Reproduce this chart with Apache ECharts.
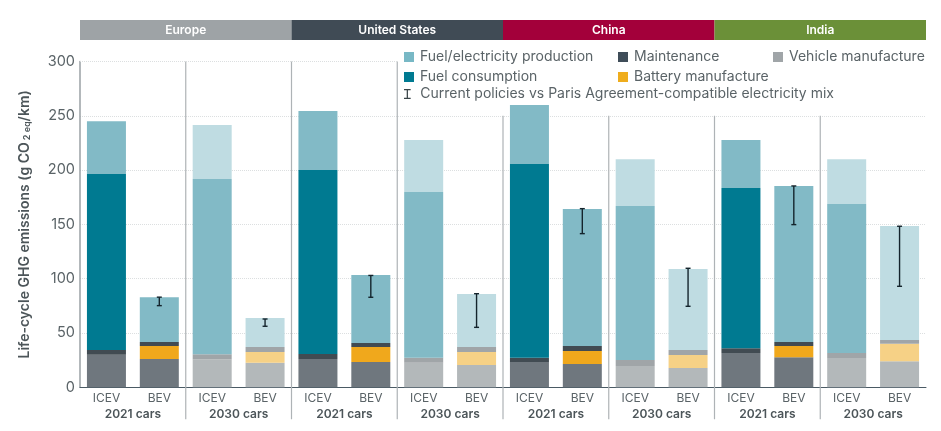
<!DOCTYPE html>
<html>
<head>
<meta charset="utf-8">
<style>html,body{margin:0;padding:0;background:#fff}#chart{width:941px;height:431px}</style>
<script src="https://cdn.jsdelivr.net/npm/echarts@6/dist/echarts.min.js"></script>
</head>
<body>
<div id="chart"></div>
<script>
const regions = ['Europe', 'United States', 'China', 'India']
const regionColors = ['#9ea3a6', '#404b55', '#a3003a', '#6b9038']
const groups = ['2021 cars', '2030 cars', '2021 cars', '2030 cars', '2021 cars', '2030 cars', '2021 cars', '2030 cars']
const cars = ['ICEV', 'BEV', 'ICEV', 'BEV', 'ICEV', 'BEV', 'ICEV', 'BEV', 'ICEV', 'BEV', 'ICEV', 'BEV', 'ICEV', 'BEV', 'ICEV', 'BEV']
const yTicks = [0, 50, 100, 150, 200, 250, 300]

// segment heights, g CO2 eq/km
const vehicle = [30, 26, 25.5, 22.7, 26, 23.3, 22.7, 20.6, 23.3, 21.5, 19.6, 17.8, 31.6, 27.6, 27, 24]
const battery = [0, 12, 0, 9.8, 0, 13.8, 0, 11.9, 0, 12, 0, 12, 0, 10.4, 0, 16]
const maintenance = [4.4, 3.7, 4.9, 4.6, 4.7, 3.7, 4.6, 4.6, 4, 4.5, 5.6, 4.6, 4.4, 3.7, 4.6, 3.6]
const fuelConsumption = [162, 0, 161.4, 0, 169.3, 0, 152.5, 0, 178.3, 0, 141.8, 0, 147.6, 0, 137.2, 0]
const fuelProduction = [48.6, 41.3, 49.7, 26.7, 54.4, 62.6, 47.9, 48.9, 54.4, 126.2, 43, 74.6, 44.1, 143.7, 41.2, 105]

// one entry per BEV bar, left to right
const errBarIndex = [1, 3, 5, 7, 9, 11, 13, 15]
const errLow = [75.2, 56.2, 82.9, 55.2, 141.5, 74.6, 149.8, 93]
const errHigh = [83, 62.9, 103, 86.2, 164.5, 109.6, 185.4, 148.3]

// group boundaries and how high each separator line goes
const sepAt = [1, 2, 3, 4, 5, 6, 7]
const sepTop = [300, 300, 300, 250, 250, 250, 250]
const topGridLine = [[0, 300], [3, 300]]

const textColor = '#5a6367'
const font = 'Inter'
const errName = 'Current policies vs Paris Agreement-compatible electricity mix'

const is2030 = (i) => Math.floor(i / 2) % 2 === 1

function stackSeries(name, values, legendColor, color2021, color2030) {
  return {
    name: name,
    type: 'bar',
    stack: 'total',
    xAxisIndex: 0,
    yAxisIndex: 0,
    barWidth: 39,
    itemStyle: { color: legendColor },
    data: values.map((v, i) => ({
      value: v,
      itemStyle: { color: is2030(i) ? color2030 : color2021 }
    }))
  }
}

const myChart = echarts.init(document.getElementById('chart'))
myChart.setOption({
  animation: false,
  textStyle: { fontFamily: font },
  grid: [
    { left: 80, width: 846, top: 61.5, height: 325.8 },
    { left: 80, width: 846, top: 20, height: 20 }
  ],
  legend: [
    { data: ['Fuel/electricity production'], left: 404, top: 50 },
    { data: ['Fuel consumption'], left: 404, top: 70 },
    { data: [{ name: errName, icon: 'path://M0,0H8V1.5H4.75V10.5H8V12H0V10.5H3.25V1.5H0Z' }], left: 404, top: 87, textPad: 3 },
    { data: ['Maintenance'], left: 618, top: 50 },
    { data: ['Battery manufacture'], left: 618, top: 70 },
    { data: ['Vehicle manufacture'], left: 773, top: 50 }
  ].map(({ textPad, ...l }) => ({
    ...l,
    selectedMode: false,
    padding: 0,
    icon: 'rect',
    itemWidth: 10,
    itemHeight: 10,
    itemGap: 0,
    textStyle: { color: textColor, fontSize: 14, fontFamily: font, padding: [0, 0, 0, textPad || 1] }
  })),
  xAxis: [
    {
      type: 'category',
      gridIndex: 0,
      data: cars,
      position: 'bottom',
      axisLine: { lineStyle: { color: '#4a5a64', width: 1 } },
      axisTick: { show: false },
      axisLabel: { interval: 0, color: textColor, fontSize: 12, margin: 5 }
    },
    {
      type: 'category',
      gridIndex: 0,
      data: groups,
      position: 'bottom',
      axisLine: { show: false },
      axisTick: { show: false },
      axisLabel: { interval: 0, color: '#4c5559', fontSize: 12, fontWeight: 600, margin: 21 }
    },
    { type: 'value', gridIndex: 0, min: 0, max: 8, show: false },
    { type: 'category', gridIndex: 1, data: regions, show: false }
  ],
  yAxis: [
    {
      type: 'value',
      gridIndex: 0,
      min: yTicks[0],
      max: yTicks[yTicks.length - 1],
      interval: 50,
      name: '{a|Life-cycle GHG emissions (g CO}{s|2 eq}{a|/km)}',
      nameLocation: 'middle',
      nameGap: 48,
      nameRotate: 90,
      nameTextStyle: {
        rich: {
          a: { color: '#4c5559', fontSize: 14, fontWeight: 600, fontFamily: font },
          s: { color: '#4c5559', fontSize: 9, fontWeight: 600, fontFamily: font, verticalAlign: 'bottom', padding: [6, 0, 0, 2] }
        }
      },
      axisLine: { show: true, lineStyle: { color: '#9aa0a4', width: 1.5 } },
      axisTick: { show: false },
      axisLabel: { color: textColor, fontSize: 14.5, margin: 5 },
      splitLine: { show: true, showMinLine: false, showMaxLine: false, lineStyle: { color: '#dcdfe0', type: 'dotted', width: 1 } }
    },
    { type: 'value', gridIndex: 1, min: 0, max: 1, show: false }
  ],
  series: [
    {
      type: 'line',
      xAxisIndex: 2,
      yAxisIndex: 0,
      data: topGridLine,
      symbol: 'none',
      silent: true,
      lineStyle: { color: '#dcdfe0', type: 'dotted', width: 1 }
    },
    stackSeries('Vehicle manufacture', vehicle, '#a0a5a8', '#6f777e', '#b3b8ba'),
    stackSeries('Battery manufacture', battery, '#efad1d', '#f0a81c', '#f6d186'),
    stackSeries('Maintenance', maintenance, '#3f4d59', '#414b52', '#a0a5a8'),
    stackSeries('Fuel consumption', fuelConsumption, '#007a91', '#007a91', '#82bac6'),
    stackSeries('Fuel/electricity production', fuelProduction, '#78b8c5', '#82bac6', '#bfdce2'),
    {
      name: errName,
      type: 'custom',
      xAxisIndex: 0,
      yAxisIndex: 0,
      z: 5,
      itemStyle: { color: '#3a4448' },
      data: errBarIndex.map((x, i) => [x, errLow[i], errHigh[i]]),
      encode: { x: 0, y: [1, 2] },
      renderItem(params, api) {
        const low = api.coord([api.value(0), api.value(1)])
        const high = api.coord([api.value(0), api.value(2)])
        const style = { stroke: '#14242c', lineWidth: 1.4, fill: null }
        const cap = 2.5
        return {
          type: 'group',
          children: [
            { type: 'line', shape: { x1: low[0], y1: low[1], x2: high[0], y2: high[1] }, style },
            { type: 'line', shape: { x1: low[0] - cap, y1: low[1], x2: low[0] + cap, y2: low[1] }, style },
            { type: 'line', shape: { x1: high[0] - cap, y1: high[1], x2: high[0] + cap, y2: high[1] }, style }
          ]
        }
      }
    },
    {
      type: 'custom',
      xAxisIndex: 2,
      yAxisIndex: 0,
      z: 1,
      silent: true,
      data: sepAt.map((x, i) => [x, sepTop[i]]),
      encode: { x: 0, y: 1 },
      renderItem(params, api) {
        const top = api.coord([api.value(0), api.value(1)])
        const base = api.coord([api.value(0), 0])
        return {
          type: 'line',
          shape: { x1: top[0], y1: top[1], x2: base[0], y2: base[1] + 32 },
          style: { stroke: '#aeb3b6', lineWidth: 1.2 }
        }
      }
    },
    {
      type: 'bar',
      xAxisIndex: 3,
      yAxisIndex: 1,
      barWidth: '100%',
      silent: true,
      data: regions.map((r, i) => ({ value: 1, itemStyle: { color: regionColors[i] } })),
      label: {
        show: true,
        position: 'inside',
        formatter: '{b}',
        color: '#fff',
        fontSize: 12,
        fontWeight: 600
      }
    }
  ]
})
</script>
</body>
</html>
